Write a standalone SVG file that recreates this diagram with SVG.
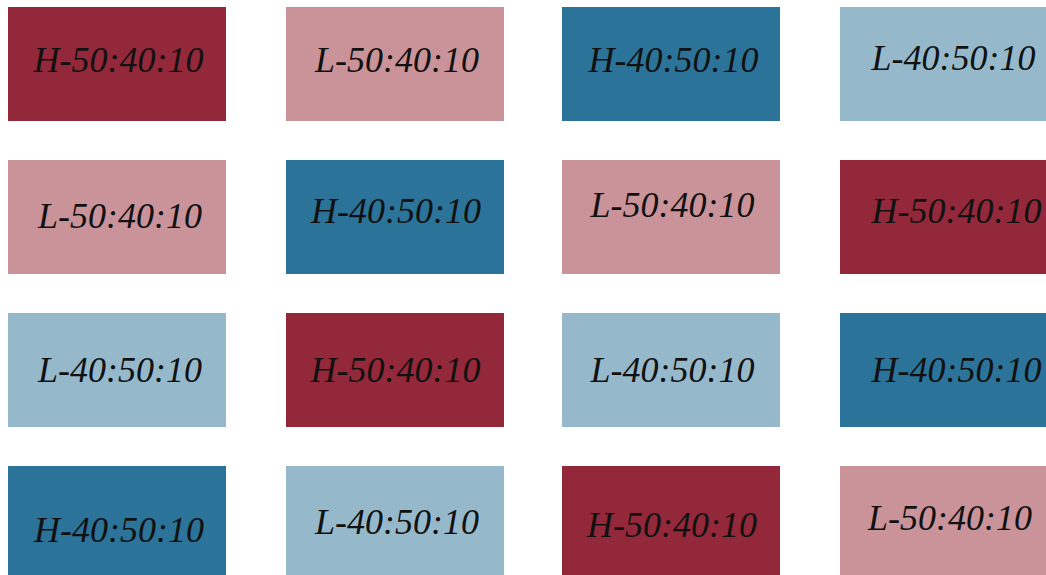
<svg xmlns="http://www.w3.org/2000/svg" width="1046" height="575" viewBox="0 0 1046 575">
<style>
.hr{fill:#93283A}.lr{fill:#C99399}.hb{fill:#2C7399}.lb{fill:#95B9CB}
text{font-family:"Liberation Serif","Palatino Linotype",serif;font-style:italic;font-size:36px;fill:#111;text-anchor:middle}
</style>
<rect width="1046" height="575" fill="#fff"/>
<g id="r1c1"><rect class="hr" x="8" y="7" width="218" height="114"/><text x="118.5" y="72">H-50:40:10</text></g>
<g id="r1c2"><rect class="lr" x="286" y="7" width="218" height="114"/><text x="397" y="72">L-50:40:10</text></g>
<g id="r1c3"><rect class="hb" x="562" y="7" width="218" height="114"/><text x="673.5" y="72">H-40:50:10</text></g>
<g id="r1c4"><rect class="lb" x="840" y="7" width="218" height="114"/><text x="953.5" y="70">L-40:50:10</text></g>
<g id="r2c1"><rect class="lr" x="8" y="160" width="218" height="114"/><text x="120" y="228">L-50:40:10</text></g>
<g id="r2c2"><rect class="hb" x="286" y="160" width="218" height="114"/><text x="396" y="223">H-40:50:10</text></g>
<g id="r2c3"><rect class="lr" x="562" y="160" width="218" height="114"/><text x="672.5" y="217">L-50:40:10</text></g>
<g id="r2c4"><rect class="hr" x="840" y="160" width="218" height="114"/><text x="956.5" y="223">H-50:40:10</text></g>
<g id="r3c1"><rect class="lb" x="8" y="313" width="218" height="114"/><text x="120" y="382">L-40:50:10</text></g>
<g id="r3c2"><rect class="hr" x="286" y="313" width="218" height="114"/><text x="395.5" y="382">H-50:40:10</text></g>
<g id="r3c3"><rect class="lb" x="562" y="313" width="218" height="114"/><text x="672.5" y="382">L-40:50:10</text></g>
<g id="r3c4"><rect class="hb" x="840" y="313" width="218" height="114"/><text x="956.5" y="382">H-40:50:10</text></g>
<g id="r4c1"><rect class="hb" x="8" y="466" width="218" height="114"/><text x="119" y="542">H-40:50:10</text></g>
<g id="r4c2"><rect class="lb" x="286" y="466" width="218" height="114"/><text x="397" y="534">L-40:50:10</text></g>
<g id="r4c3"><rect class="hr" x="562" y="466" width="218" height="114"/><text x="672" y="537">H-50:40:10</text></g>
<g id="r4c4"><rect class="lr" x="840" y="466" width="218" height="114"/><text x="950" y="530">L-50:40:10</text></g>
<g id="connectors"/>
</svg>
